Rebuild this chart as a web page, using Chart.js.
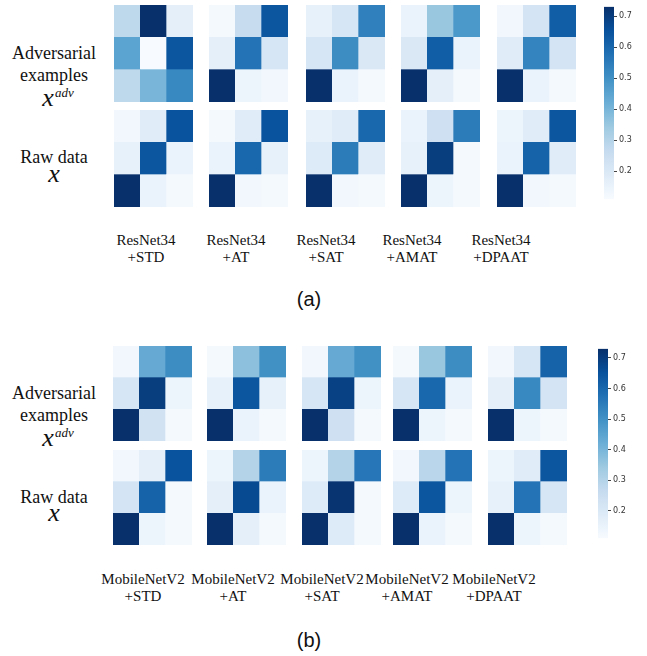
<!DOCTYPE html>
<html>
<head>
<meta charset="utf-8">
<script src="https://cdn.jsdelivr.net/npm/chart.js@4.4.0/dist/chart.umd.min.js"></script>
<style>
  body { margin: 0; background: #fff; width: 647px; height: 656px; position: relative; overflow: hidden; }
  canvas { position: absolute; }
  .t { position: absolute; transform: translate(-50%, -50%); font-family: "Liberation Serif", serif; white-space: nowrap; color: #111; text-align: center; line-height: 1; }
  .side { font-size: 18px; }
  .col { font-size: 15px; line-height: 17px; }
  .mx { font-size: 26px; font-style: italic; }
  .mx sup { font-size: 13px; vertical-align: 9px; margin-left: 1px; }
  .cap { font-family: "Liberation Sans", sans-serif; font-size: 20px; }
</style>
</head>
<body>
<script>
// ======= DATA =======
const methods = ["+STD", "+AT", "+SAT", "+AMAT", "+DPAAT"];
const cbTicks = [0.2, 0.3, 0.4, 0.5, 0.6, 0.7];
const vmin = 0.11;
const vmax = 0.73;

// each matrix: rows top -> bottom
const resnetAdv = [
  [[0.28, 0.73, 0.17], [0.45, 0.11, 0.64], [0.28, 0.40, 0.52]],
  [[0.12, 0.26, 0.64], [0.17, 0.57, 0.21], [0.73, 0.14, 0.13]],
  [[0.16, 0.21, 0.54], [0.21, 0.51, 0.20], [0.73, 0.15, 0.12]],
  [[0.15, 0.35, 0.48], [0.20, 0.62, 0.15], [0.73, 0.17, 0.12]],
  [[0.13, 0.22, 0.62], [0.18, 0.53, 0.22], [0.73, 0.15, 0.12]],
];
const resnetRaw = [
  [[0.13, 0.18, 0.65], [0.16, 0.64, 0.15], [0.73, 0.15, 0.12]],
  [[0.12, 0.18, 0.65], [0.15, 0.60, 0.16], [0.73, 0.13, 0.12]],
  [[0.16, 0.18, 0.60], [0.19, 0.55, 0.18], [0.73, 0.13, 0.12]],
  [[0.15, 0.24, 0.55], [0.16, 0.70, 0.12], [0.73, 0.14, 0.12]],
  [[0.14, 0.18, 0.64], [0.15, 0.61, 0.18], [0.73, 0.13, 0.12]],
];
const mobileAdv = [
  [[0.13, 0.43, 0.51], [0.21, 0.70, 0.14], [0.73, 0.23, 0.12]],
  [[0.12, 0.37, 0.50], [0.16, 0.64, 0.16], [0.73, 0.15, 0.12]],
  [[0.13, 0.43, 0.50], [0.21, 0.69, 0.14], [0.73, 0.24, 0.12]],
  [[0.12, 0.35, 0.51], [0.21, 0.60, 0.15], [0.73, 0.14, 0.12]],
  [[0.13, 0.21, 0.61], [0.17, 0.52, 0.22], [0.73, 0.14, 0.12]],
];
const mobileRaw = [
  [[0.13, 0.17, 0.65], [0.22, 0.61, 0.12], [0.73, 0.14, 0.12]],
  [[0.14, 0.30, 0.55], [0.17, 0.67, 0.15], [0.73, 0.17, 0.12]],
  [[0.14, 0.30, 0.56], [0.19, 0.72, 0.12], [0.73, 0.19, 0.12]],
  [[0.13, 0.29, 0.57], [0.19, 0.64, 0.14], [0.73, 0.15, 0.12]],
  [[0.14, 0.18, 0.64], [0.16, 0.57, 0.21], [0.73, 0.14, 0.12]],
];

// matplotlib "Blues"
const blues = ["#f7fbff", "#deebf7", "#c6dbef", "#9ecae1", "#6baed6", "#4292c6", "#2171b5", "#08519c", "#08306b"];

const hex = (h) => [1, 3, 5].map((i) => parseInt(h.slice(i, i + 2), 16));
function cmap(v) {
  let t = (v - vmin) / (vmax - vmin);
  t = Math.max(0, Math.min(1, t)) * (blues.length - 1);
  const i = Math.min(Math.floor(t), blues.length - 2);
  const f = t - i;
  const a = hex(blues[i]), b = hex(blues[i + 1]);
  const c = a.map((x, k) => Math.round(x + (b[k] - x) * f));
  return `rgb(${c[0]},${c[1]},${c[2]})`;
}

function addCanvas(x, y, w, h) {
  const c = document.createElement("canvas");
  c.width = w;
  c.height = h;
  c.style.left = x + "px";
  c.style.top = y + "px";
  document.body.appendChild(c);
  return c;
}

function text(html, x, y, cls) {
  const d = document.createElement("div");
  d.className = "t " + cls;
  d.innerHTML = html;
  d.style.left = x + "px";
  d.style.top = y + "px";
  document.body.appendChild(d);
}

// ======= HEATMAP (stacked bars, one stack per column) =======
function heatmap(x, y, w, h, m) {
  new Chart(addCanvas(x, y, w, h), {
    type: "bar",
    data: {
      labels: ["0", "1", "2"],
      datasets: [2, 1, 0].map((r) => ({
        data: [1, 1, 1],
        backgroundColor: m[r].map(cmap),
        borderWidth: 0,
        barPercentage: 1,
        categoryPercentage: 1,
      })),
    },
    options: {
      responsive: false,
      animation: false,
      events: [],
      layout: { padding: 0 },
      plugins: { legend: { display: false }, tooltip: { enabled: false } },
      scales: {
        x: { display: false, stacked: true },
        y: { display: false, stacked: true, min: 0, max: 3 },
      },
    },
  });
}

// ======= COLORBAR =======
function colorbar(x, y, w, h) {
  new Chart(addCanvas(x, y - 6, w + 26, h + 12), {
    type: "bar",
    data: {
      labels: [""],
      datasets: [
        {
          data: [[vmin, vmax]],
          borderWidth: 0,
          barPercentage: 1,
          categoryPercentage: 1,
          backgroundColor: (ctx) => {
            const a = ctx.chart.chartArea;
            if (!a) return blues[4];
            const g = ctx.chart.ctx.createLinearGradient(0, a.bottom, 0, a.top);
            blues.forEach((c, i) => g.addColorStop(i / (blues.length - 1), c));
            return g;
          },
        },
      ],
    },
    options: {
      responsive: false,
      animation: false,
      events: [],
      layout: { padding: { top: 6, bottom: 6, left: 0, right: 0 } },
      plugins: { legend: { display: false }, tooltip: { enabled: false } },
      scales: {
        x: { display: false },
        y: {
          position: "right",
          min: vmin,
          max: vmax,
          border: { display: false },
          grid: { drawOnChartArea: false, tickLength: 3, color: "#444" },
          ticks: {
            padding: 2,
            color: "#333",
            font: { family: "'DejaVu Sans', sans-serif", size: 8 },
            callback: (v) => v.toFixed(1),
          },
          afterBuildTicks: (axis) => {
            axis.ticks = cbTicks.map((v) => ({ value: v }));
          },
          afterFit: (axis) => {
            axis.width = 26;
          },
        },
      },
    },
  });
}

function panel(net, adv, raw, p) {
  methods.forEach((m, i) => {
    heatmap(p.xs[i], p.ys[0], p.w, p.h, adv[i]);
    heatmap(p.xs[i], p.ys[1], p.w, p.h, raw[i]);
    text(net + "<br>" + m, p.labelX[i], p.labelY, "col");
  });
  colorbar(p.cb[0], p.cb[1], p.cb[2], p.cb[3]);
  text("Adversarial", 54, p.side[0], "side");
  text("examples", 54, p.side[1], "side");
  text('x<sup>adv</sup>', 58, p.side[2], "mx");
  text("Raw data", 54, p.side[3], "side");
  text("x", 54, p.side[4], "mx");
  text(p.letter, 309, p.capY, "cap");
}

panel("ResNet34", resnetAdv, resnetRaw, {
  xs: [114, 209, 306, 401, 497], ys: [5, 110], w: 79, h: 97,
  labelX: [146, 236, 326, 412, 501], labelY: 249,
  cb: [604, 6, 10, 194],
  side: [53, 75, 98, 157, 174],
  letter: "(a)", capY: 299,
});

panel("MobileNetV2", mobileAdv, mobileRaw, {
  xs: [113, 207, 302, 393, 488], ys: [346, 450], w: 79, h: 95,
  labelX: [143, 233, 322, 407, 494], labelY: 588,
  cb: [598, 348, 10, 191],
  side: [393, 415, 438, 497, 513],
  letter: "(b)", capY: 640,
});
</script>
</body>
</html>
